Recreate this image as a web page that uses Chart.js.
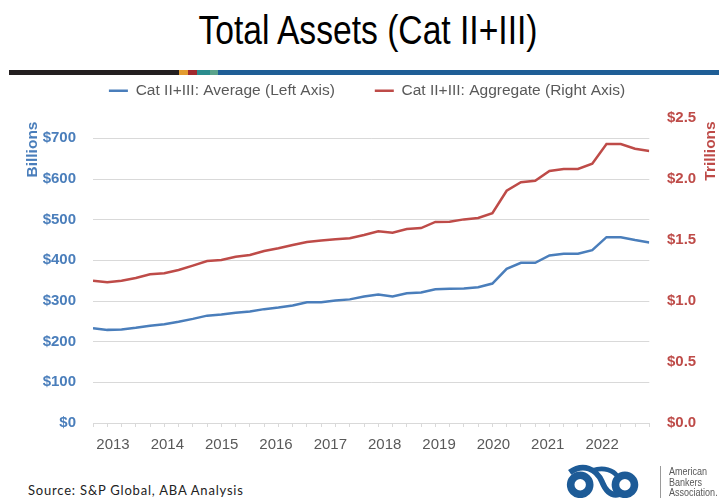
<!DOCTYPE html>
<html>
<head>
<meta charset="utf-8">
<script src="https://cdn.jsdelivr.net/npm/chart.js@4.4.1/dist/chart.umd.min.js"></script>
<style>
  html, body { margin: 0; padding: 0; background: #fff; }
  body { width: 719px; height: 498px; position: relative; overflow: hidden; font-family: "Liberation Sans", Arial, sans-serif; }
  #title { position: absolute; left: 0; top: 10px; width: 736px; text-align: center; font-size: 41px; line-height: 41px; color: #000; transform: scaleX(0.82); transform-origin: 368px 0; white-space: nowrap; }
  #bar { position: absolute; left: 9px; top: 70px; width: 710px; height: 5px; display: flex; }
  #bar div { height: 5px; }
  #wrap { position: absolute; left: 0; top: 43px; width: 719px; height: 425px; }
  #source { position: absolute; left: 28px; top: 482px; font-family: Lato, "Open Sans", sans-serif; font-size: 13px; letter-spacing: 0.8px; color: #222; white-space: nowrap; }
  #logo { position: absolute; left: 564px; top: 464px; }
  #sep { position: absolute; left: 660px; top: 466px; width: 1px; height: 32px; background: #9a9a9a; }
  #aba { position: absolute; left: 669px; top: 466px; font-size: 11px; line-height: 10.5px; color: #595959; transform: scaleX(0.82); transform-origin: 0 0; white-space: nowrap; }
</style>
</head>
<body>
<div id="title">Total Assets (Cat II+III)</div>
<div id="bar">
  <div style="width:170px;background:#231f20"></div>
  <div style="width:9px;background:#e39b2f"></div>
  <div style="width:9px;background:#a02a2e"></div>
  <div style="width:13px;background:#2b8c8e"></div>
  <div style="width:8px;background:#5aa38b"></div>
  <div style="flex:1;background:#1f5e96"></div>
</div>
<div id="wrap"><canvas id="chart" width="719" height="425"></canvas></div>
<div id="source">Source: S&amp;P Global, ABA Analysis</div>
<svg id="logo" width="80" height="34" viewBox="0 0 84 34">
  <circle cx="17" cy="21" r="10" fill="none" stroke="#1d5b97" stroke-width="8"/>
  <circle cx="64" cy="21" r="10" fill="none" stroke="#1d5b97" stroke-width="8"/>
  <path d="M6 8 C 20 -2, 34 4, 40 18 C 44 28, 50 33, 58 31" fill="none" stroke="#1d5b97" stroke-width="6"/>
  <path d="M30 6 C 42 2, 52 6, 56 12" fill="none" stroke="#1d5b97" stroke-width="5"/>
</svg>
<div id="sep"></div>
<div id="aba">American<br>Bankers<br>Association.</div>

<script>
// quarterly data, 2013 Q1 - 2022 Q4
const quarters = [
  '2013 Q1', '2013 Q2', '2013 Q3', '2013 Q4', '2014 Q1', '2014 Q2', '2014 Q3', '2014 Q4',
  '2015 Q1', '2015 Q2', '2015 Q3', '2015 Q4', '2016 Q1', '2016 Q2', '2016 Q3', '2016 Q4',
  '2017 Q1', '2017 Q2', '2017 Q3', '2017 Q4', '2018 Q1', '2018 Q2', '2018 Q3', '2018 Q4',
  '2019 Q1', '2019 Q2', '2019 Q3', '2019 Q4', '2020 Q1', '2020 Q2', '2020 Q3', '2020 Q4',
  '2021 Q1', '2021 Q2', '2021 Q3', '2021 Q4', '2022 Q1', '2022 Q2', '2022 Q3', '2022 Q4'
];

// average, $ billions (left axis)
const avgBillions = [
  233, 229, 230, 234, 239, 243, 249, 256, 264, 267,
  271, 274, 280, 284, 289, 297, 297, 301, 304, 311,
  316, 311, 319, 321, 329, 330, 331, 334, 343, 379,
  394, 394, 412, 416, 416, 425, 457, 457, 450, 444
];

// aggregate, $ trillions (right axis)
const aggTrillions = [
  1.166, 1.153, 1.166, 1.189, 1.219, 1.227, 1.254, 1.290, 1.328, 1.336,
  1.363, 1.377, 1.410, 1.432, 1.459, 1.484, 1.495, 1.506, 1.514, 1.541,
  1.571, 1.560, 1.590, 1.598, 1.648, 1.650, 1.669, 1.680, 1.719, 1.904,
  1.973, 1.986, 2.066, 2.082, 2.082, 2.126, 2.287, 2.287, 2.248, 2.230
];

const yearLabels = ['2013', '2014', '2015', '2016', '2017', '2018', '2019', '2020', '2021', '2022'];
const leftTicks = [0, 100, 200, 300, 400, 500, 600, 700];
const rightTicks = [0, 0.5, 1.0, 1.5, 2.0, 2.5];

const BLUE = '#4a7ebb';
const RED = '#be4b48';
const GREY = '#595959';
const GRID = '#d9d9d9';

// where the year labels sit on the quarter axis
const yearTickStart = 1.4;
const yearTickStep = 3.81;

function yearFor(value) {
  const i = Math.round((value - yearTickStart) / yearTickStep);
  const pos = yearTickStart + i * yearTickStep;
  return Math.abs(pos - value) < 1e-6 && yearLabels[i] ? yearLabels[i] : '';
}

// legend row sits high, plot area starts right under it
const legendHeight = {
  id: 'legendHeight',
  beforeInit(chart) {
    if (!chart.legend) return;
    const fit = chart.legend.fit;
    chart.legend.fit = function () {
      fit.call(this);
      this.height = 75;
    };
  }
};

// Excel style axis titles, sitting at the top of each axis
const axisTitles = {
  id: 'axisTitles',
  afterDraw(chart) {
    const { ctx, chartArea } = chart;
    ctx.save();
    ctx.font = 'bold 15.5px "Liberation Sans", Arial, sans-serif';
    ctx.textAlign = 'center';
    ctx.textBaseline = 'middle';

    ctx.save();
    ctx.translate(33, chartArea.top + 31.5);
    ctx.rotate(-Math.PI / 2);
    ctx.fillStyle = BLUE;
    ctx.fillText('Billions', 0, 0);
    ctx.restore();

    ctx.save();
    ctx.translate(711, chartArea.top + 33);
    ctx.rotate(-Math.PI / 2);
    ctx.fillStyle = RED;
    ctx.fillText('Trillions', 0, 0);
    ctx.restore();

    ctx.restore();
  }
};

const ctx = document.getElementById('chart').getContext('2d');
const chart = new Chart(ctx, {
  type: 'line',
  data: {
    labels: quarters,
    datasets: [
      {
        label: 'Cat II+III: Average (Left Axis)',
        data: avgBillions.map((v, i) => ({ x: i, y: v })),
        borderColor: BLUE,
        backgroundColor: BLUE,
        borderWidth: 2.5,
        pointRadius: 0,
        tension: 0,
        yAxisID: 'y'
      },
      {
        label: 'Cat II+III: Aggregate (Right Axis)',
        data: aggTrillions.map((v, i) => ({ x: i, y: v })),
        borderColor: RED,
        backgroundColor: RED,
        borderWidth: 2.5,
        pointRadius: 0,
        tension: 0,
        yAxisID: 'y2'
      }
    ]
  },
  options: {
    responsive: false,
    animation: false,
    devicePixelRatio: 1,
    layout: { padding: { left: 15, right: 0, top: 0, bottom: 0 } },
    plugins: {
      tooltip: { enabled: false },
      legend: {
        position: 'top',
        labels: {
          boxWidth: 19,
          boxHeight: 2.5,
          padding: 40,
          color: GREY,
          font: { family: '"Liberation Sans", Arial, sans-serif', size: 15.5 },
          generateLabels(c) {
            return Chart.defaults.plugins.legend.labels.generateLabels(c)
              .map(l => Object.assign(l, { lineWidth: 0, fillStyle: l.strokeStyle }));
          }
        }
      }
    },
    scales: {
      x: {
        type: 'linear',
        min: 0,
        max: quarters.length - 1,
        afterBuildTicks(scale) {
          const t = quarters.map((q, i) => ({ value: i }));
          yearLabels.forEach((y, i) => t.push({ value: yearTickStart + i * yearTickStep }));
          t.sort((a, b) => a.value - b.value);
          scale.ticks = t;
        },
        afterFit(scale) { scale.height = 45; },
        grid: {
          drawOnChartArea: false,
          drawTicks: true,
          tickLength: 4,
          tickColor: (c) => (c.tick && Number.isInteger(c.tick.value)) ? GRID : 'rgba(0,0,0,0)'
        },
        border: { color: GRID, width: 1 },
        ticks: {
          autoSkip: false,
          maxRotation: 0,
          padding: 9,
          color: GREY,
          font: { family: '"Liberation Sans", Arial, sans-serif', size: 15 },
          callback: (value) => yearFor(value)
        }
      },
      y: {
        position: 'left',
        min: 0,
        max: 750,
        afterBuildTicks(scale) { scale.ticks = leftTicks.map(v => ({ value: v })); },
        afterFit(scale) { scale.width = 78; },
        grid: { color: GRID, lineWidth: 1, drawTicks: false },
        border: { display: false },
        ticks: {
          padding: 17,
          color: BLUE,
          font: { family: '"Liberation Sans", Arial, sans-serif', size: 15, weight: 'bold' },
          callback: (v) => '$' + v
        }
      },
      y2: {
        position: 'right',
        min: 0,
        max: 2.5,
        afterBuildTicks(scale) { scale.ticks = rightTicks.map(v => ({ value: v })); },
        afterFit(scale) { scale.width = 69.7; },
        grid: { display: false, drawTicks: false },
        border: { display: false },
        ticks: {
          padding: 17.7,
          color: RED,
          font: { family: '"Liberation Sans", Arial, sans-serif', size: 15, weight: 'bold' },
          callback: (v) => '$' + v.toFixed(1)
        }
      }
    }
  },
  plugins: [legendHeight, axisTitles]
});
</script>
</body>
</html>
